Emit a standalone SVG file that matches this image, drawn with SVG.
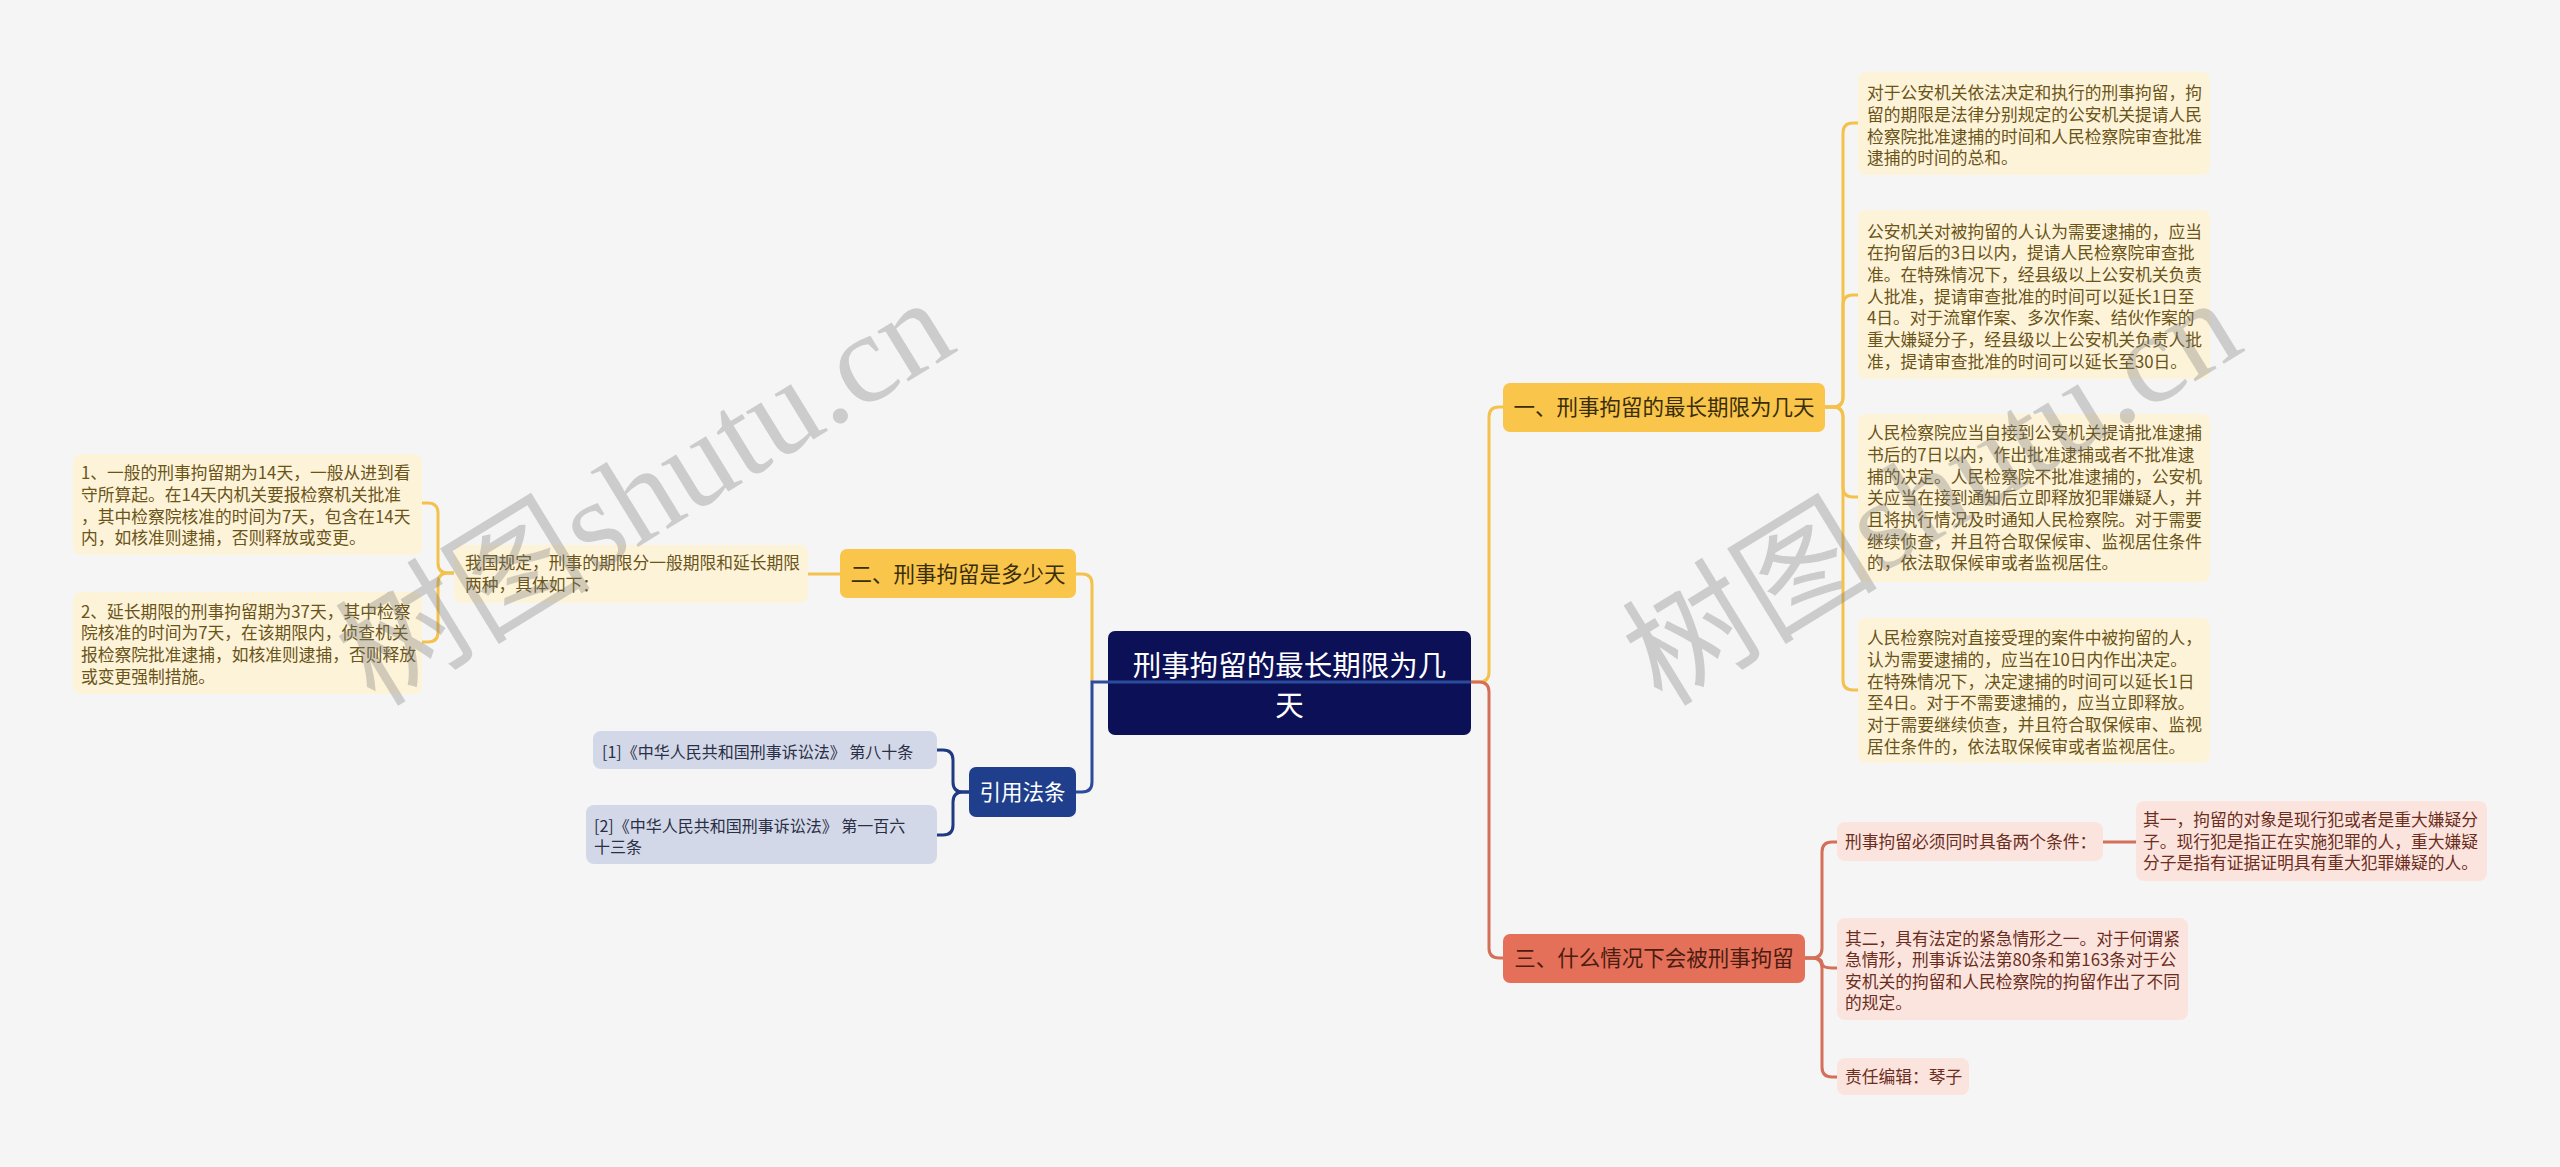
<svg xmlns="http://www.w3.org/2000/svg" width="2560" height="1167" viewBox="0 0 2560 1167">
<style>
text{font-family:"Noto Sans CJK SC","Noto Sans",sans-serif;}
.leafY rect{fill:#fdf3d9;}
.leafY text{fill:#6a5418;font-size:16.75px;}
.leafR rect{fill:#fbe4dd;}
.leafR text{fill:#6b2e1e;font-size:16.75px;}
.leafB rect{fill:#d3d8e8;}
.leafB text{fill:#2a2f45;font-size:16px;}
.br text{font-size:21.5px;text-anchor:middle;}
.cy{fill:none;stroke:#f3c14c;stroke-width:3;}
.cr{fill:none;stroke:#d4705a;stroke-width:3;}
.cb{fill:none;stroke:#1f3a82;stroke-width:3;}
.wm{font-family:"Liberation Serif","Noto Sans CJK SC",serif;font-size:128px;fill:#7a7a7a;opacity:0.33;}
</style>
<rect x="0" y="0" width="2560" height="1167" fill="#f5f5f5"/>

<g id="center">
<rect x="1108" y="631" width="363" height="104" rx="7" fill="#0c1157"/>
<text x="1289.5" y="676" font-size="28.5" fill="#ffffff" text-anchor="middle">刑事拘留的最长期限为几</text>
<text x="1289.5" y="716" font-size="28.5" fill="#ffffff" text-anchor="middle">天</text>
</g>

<g id="branch1" class="br">
<rect x="1503" y="383" width="322" height="49" rx="7" fill="#f9c54b"/>
<text x="1664" y="415" fill="#3a2e0a">一、刑事拘留的最长期限为几天</text>
</g>
<g id="branch2" class="br">
<rect x="840" y="549" width="236" height="49" rx="7" fill="#f9c54b"/>
<text x="958" y="582" fill="#3a2e0a">二、刑事拘留是多少天</text>
</g>
<g id="branch3" class="br">
<rect x="1503" y="934" width="302" height="49" rx="7" fill="#e4705a"/>
<text x="1654" y="966" fill="#4b1c10">三、什么情况下会被刑事拘留</text>
</g>
<g id="refs" class="br">
<rect x="969" y="767" width="107" height="50" rx="7" fill="#1f3f8c"/>
<text x="1022.5" y="800" fill="#ffffff">引用法条</text>
</g>

<g id="r1" class="leafY">
<rect x="1858" y="72" width="352" height="103" rx="8"/>
<text x="1867" y="99">对于公安机关依法决定和执行的刑事拘留，拘</text>
<text x="1867" y="121">留的期限是法律分别规定的公安机关提请人民</text>
<text x="1867" y="143">检察院批准逮捕的时间和人民检察院审查批准</text>
<text x="1867" y="164">逮捕的时间的总和。</text>
</g>
<g id="r2" class="leafY">
<rect x="1858" y="210" width="352" height="169" rx="8"/>
<text x="1867" y="238">公安机关对被拘留的人认为需要逮捕的，应当</text>
<text x="1867" y="259">在拘留后的3日以内，提请人民检察院审查批</text>
<text x="1867" y="281">准。在特殊情况下，经县级以上公安机关负责</text>
<text x="1867" y="303">人批准，提请审查批准的时间可以延长1日至</text>
<text x="1867" y="324">4日。对于流窜作案、多次作案、结伙作案的</text>
<text x="1867" y="346">重大嫌疑分子，经县级以上公安机关负责人批</text>
<text x="1867" y="368">准，提请审查批准的时间可以延长至30日。</text>
</g>
<g id="r3" class="leafY">
<rect x="1858" y="414" width="352" height="168" rx="8"/>
<text x="1867" y="439">人民检察院应当自接到公安机关提请批准逮捕</text>
<text x="1867" y="461">书后的7日以内，作出批准逮捕或者不批准逮</text>
<text x="1867" y="483">捕的决定。人民检察院不批准逮捕的，公安机</text>
<text x="1867" y="504">关应当在接到通知后立即释放犯罪嫌疑人，并</text>
<text x="1867" y="526">且将执行情况及时通知人民检察院。对于需要</text>
<text x="1867" y="548">继续侦查，并且符合取保候审、监视居住条件</text>
<text x="1867" y="569">的，依法取保候审或者监视居住。</text>
</g>
<g id="r4" class="leafY">
<rect x="1858" y="618" width="352" height="145" rx="8"/>
<text x="1867" y="644">人民检察院对直接受理的案件中被拘留的人，</text>
<text x="1867" y="666">认为需要逮捕的，应当在10日内作出决定。</text>
<text x="1867" y="688">在特殊情况下，决定逮捕的时间可以延长1日</text>
<text x="1867" y="709">至4日。对于不需要逮捕的，应当立即释放。</text>
<text x="1867" y="731">对于需要继续侦查，并且符合取保候审、监视</text>
<text x="1867" y="753">居住条件的，依法取保候审或者监视居住。</text>
</g>

<g id="mid" class="leafY">
<rect x="454" y="545" width="354" height="58" rx="8"/>
<text x="465" y="569">我国规定，刑事的期限分一般期限和延长期限</text>
<text x="465" y="591">两种，具体如下：</text>
</g>
<g id="l1" class="leafY">
<rect x="73" y="454" width="349" height="101" rx="8"/>
<text x="81" y="479">1、一般的刑事拘留期为14天，一般从进到看</text>
<text x="81" y="501">守所算起。在14天内机关要报检察机关批准</text>
<text x="81" y="523">，其中检察院核准的时间为7天，包含在14天</text>
<text x="81" y="544">内，如核准则逮捕，否则释放或变更。</text>
</g>
<g id="l2" class="leafY">
<rect x="73" y="592" width="349" height="102" rx="8"/>
<text x="81" y="618">2、延长期限的刑事拘留期为37天，其中检察</text>
<text x="81" y="639">院核准的时间为7天，在该期限内，侦查机关</text>
<text x="81" y="661">报检察院批准逮捕，如核准则逮捕，否则释放</text>
<text x="81" y="683">或变更强制措施。</text>
</g>

<g id="ref1" class="leafB">
<rect x="593" y="731" width="344" height="38" rx="8"/>
<text x="602" y="758">[1]《中华人民共和国刑事诉讼法》 第八十条</text>
</g>
<g id="ref2" class="leafB">
<rect x="586" y="805" width="351" height="59" rx="8"/>
<text x="594" y="832">[2]《中华人民共和国刑事诉讼法》 第一百六</text>
<text x="594" y="853">十三条</text>
</g>

<g id="c1" class="leafR">
<rect x="1837" y="822" width="266" height="39" rx="8"/>
<text x="1845" y="848">刑事拘留必须同时具备两个条件：</text>
</g>
<g id="c2" class="leafR">
<rect x="2136" y="801" width="351" height="80" rx="8"/>
<text x="2143" y="826">其一，拘留的对象是现行犯或者是重大嫌疑分</text>
<text x="2143" y="848">子。现行犯是指正在实施犯罪的人，重大嫌疑</text>
<text x="2143" y="869">分子是指有证据证明具有重大犯罪嫌疑的人。</text>
</g>
<g id="c3" class="leafR">
<rect x="1837" y="918" width="351" height="102" rx="8"/>
<text x="1845" y="945">其二，具有法定的紧急情形之一。对于何谓紧</text>
<text x="1845" y="966">急情形，刑事诉讼法第80条和第163条对于公</text>
<text x="1845" y="988">安机关的拘留和人民检察院的拘留作出了不同</text>
<text x="1845" y="1009">的规定。</text>
</g>
<g id="c4" class="leafR">
<rect x="1837" y="1058" width="132" height="37" rx="8"/>
<text x="1845" y="1083">责任编辑：琴子</text>
</g>

<g id="connectors">
<path class="cy" d="M1076,574 H1082 Q1092,574 1092,584 V682"/>
<path class="cb" d="M1076,792 H1082 Q1092,792 1092,782 V682 H1471" stroke-width="2.5" style="stroke:#2b4c9c"/>
<path class="cy" d="M1471,682 H1479 Q1489,682 1489,672 V417 Q1489,407 1499,407 H1503"/>
<path class="cr" d="M1471,682 H1479 Q1489,682 1489,692 V948 Q1489,958 1499,958 H1503"/>
<path class="cy" d="M1825,407 H1833 Q1843,407 1843,397 V133 Q1843,123 1853,123 H1858"/>
<path class="cy" d="M1825,407 H1833 Q1843,407 1843,397 V305 Q1843,295 1853,295 H1858"/>
<path class="cy" d="M1825,407 H1833 Q1843,407 1843,417 V487 Q1843,497 1853,497 H1858"/>
<path class="cy" d="M1825,407 H1833 Q1843,407 1843,417 V680 Q1843,690 1853,690 H1858"/>
<path class="cy" d="M840,574 H808"/>
<path class="cy" d="M454,573 H448 Q438,573 438,563 V513 Q438,503 428,503 H422"/>
<path class="cy" d="M454,573 H448 Q438,573 438,583 V632 Q438,642 428,642 H422"/>
<path class="cb" d="M969,792 H963 Q953,792 953,782 V760 Q953,750 943,750 H937"/>
<path class="cb" d="M969,792 H963 Q953,792 953,802 V825 Q953,835 943,835 H937"/>
<path class="cr" d="M1805,958 H1812 Q1822,958 1822,948 V852 Q1822,842 1832,842 H1837"/>
<path class="cr" d="M1805,958 H1812 Q1822,958 1822,963 Q1822,968 1832,968 H1837"/>
<path class="cr" d="M1805,958 H1812 Q1822,958 1822,968 V1067 Q1822,1077 1832,1077 H1837"/>
<path class="cr" d="M2103,842 H2136"/>
</g>

<text class="wm" transform="translate(375,708) rotate(-31.5)">树图shutu.cn</text>
<text class="wm" transform="translate(1662,708) rotate(-31.5)">树图shutu.cn</text>
</svg>
